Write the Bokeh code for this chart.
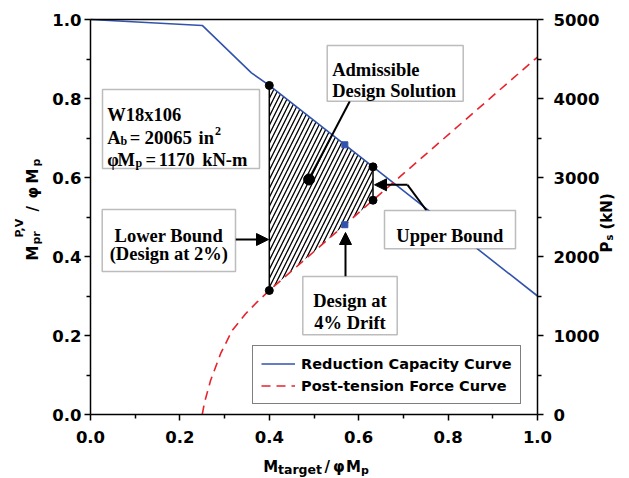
import numpy as np
from math import pi
from bokeh.plotting import figure
from bokeh.models import (Range1d, LinearAxis, FixedTicker, Label, BoxAnnotation,
                          Arrow, NormalHead, Legend, LegendItem)
from bokeh.embed import file_html
from bokeh.resources import INLINE

# ---------------- data ----------------
# Reduction capacity curve (M_pr^{P,V} / phi M_p vs M_target / phi M_p)
cap_x = [0.0, 0.25, 0.36, 0.40, 1.0]
cap_y = [1.0, 0.985, 0.865, 0.833, 0.30]
# Post-tension force curve (P_s / 5000 kN on the left scale)
pt_x = [0.25, 0.255, 0.2686, 0.291, 0.317, 0.347, 0.373, 0.40, 1.0]
pt_y = [0.0, 0.03, 0.086, 0.154, 0.213, 0.255, 0.285, 0.314, 0.905]
# lower bound (design at 2%) and upper bound
bound_x = [0.40, 0.632]
# design at 4% drift
drift4_x = [0.569]
# admissible design solution marker
adm_x = [0.489]
adm_y = [0.595]

x_ticks = [0.0, 0.2, 0.4, 0.6, 0.8, 1.0]
x_tick_labels = ["0.0", "0.2", "0.4", "0.6", "0.8", "1.0"]
x_minor = [0.1, 0.3, 0.5, 0.7, 0.9]
y_ticks = [0.0, 0.2, 0.4, 0.6, 0.8, 1.0]
y_tick_labels = ["0.0", "0.2", "0.4", "0.6", "0.8", "1.0"]
y_minor = [0.1, 0.3, 0.5, 0.7, 0.9]
ps_ticks = [0, 1000, 2000, 3000, 4000, 5000]
ps_tick_labels = ["0", "1000", "2000", "3000", "4000", "5000"]
ps_minor = [500, 1500, 2500, 3500, 4500]
ps_max = 5000

BLUE = "#3153ad"
RED = "#e8232c"
SANS = "DejaVu Sans"
SERIF = "Liberation Serif"

# ---------------- layout helpers ----------------
W, H = 629, 478
X0, X1, Y0, Y1 = 90, 537, 414, 19   # pixel position of data 0 and 1


def dx(px):
    return (px - X0) / (X1 - X0)


def dy(py):
    return (Y0 - py) / (Y0 - Y1)


p = figure(width=W, height=H,
           x_range=Range1d(dx(0), dx(W)), y_range=Range1d(dy(H), dy(0)),
           output_backend="svg", toolbar_location=None,
           x_axis_location=None, y_axis_location=None,
           min_border=0, min_border_left=0, min_border_right=0,
           min_border_top=0, min_border_bottom=0)
p.extra_y_ranges = {"ps": Range1d(dy(H) * ps_max, dy(0) * ps_max)}
p.xgrid.visible = False
p.ygrid.visible = False
p.outline_line_color = None
p.background_fill_color = "white"
p.border_fill_color = "white"


def style_axis(ax, ticks, minor, labels, standoff):
    ax.ticker = FixedTicker(ticks=ticks, minor_ticks=minor)
    ax.major_label_overrides = {t: l for t, l in zip(ticks, labels)}
    ax.axis_line_width = 1.5
    ax.axis_line_color = "black"
    ax.major_tick_line_width = 1.5
    ax.minor_tick_line_width = 1.5
    ax.major_tick_out = 6
    ax.major_tick_in = 0
    ax.minor_tick_out = 4
    ax.minor_tick_in = 0
    ax.major_label_text_font = SANS
    ax.major_label_text_font_style = "bold"
    ax.major_label_text_font_size = "16.5px"
    ax.major_label_text_color = "black"
    ax.major_label_standoff = standoff


xax = LinearAxis(fixed_location=0, bounds=(0, 1))
style_axis(xax, x_ticks, x_minor, x_tick_labels, 10)
p.add_layout(xax, "below")
yax = LinearAxis(fixed_location=0, bounds=(0, 1))
style_axis(yax, y_ticks, y_minor, y_tick_labels, 3)
p.add_layout(yax, "left")
rax = LinearAxis(y_range_name="ps", fixed_location=1, bounds=(0, ps_max))
style_axis(rax, ps_ticks, ps_minor, ps_tick_labels, 10)
p.add_layout(rax, "right")
tax = LinearAxis(fixed_location=1, bounds=(0, 1), ticker=FixedTicker(ticks=[]),
                 major_tick_out=0, major_tick_in=0, minor_tick_out=0, minor_tick_in=0,
                 axis_line_width=1.5, axis_line_color="black")
p.add_layout(tax, "above")

# ---------------- hatched admissible region ----------------
xs = np.linspace(bound_x[0], bound_x[1], 60)
top = np.interp(xs, cap_x, cap_y)
bot = np.interp(xs, pt_x, pt_y)
p.patch(np.concatenate([xs, xs[::-1]]), np.concatenate([top, bot[::-1]]),
        fill_color="white", line_color=None, hatch_pattern="/",
        hatch_color="black", hatch_scale=9, hatch_weight=1.3)
b_top = np.interp(bound_x, cap_x, cap_y)
b_bot = np.interp(bound_x, pt_x, pt_y)
p.segment(x0=bound_x, y0=b_bot, x1=bound_x, y1=b_top, line_color="black", line_width=1.5)

# ---------------- curves ----------------
r_cap = p.line(cap_x, cap_y, line_color=BLUE, line_width=1.6)
r_pt = p.line(pt_x, pt_y, line_color=RED, line_width=1.6, line_dash="9 6")

# connectors
p.line([dx(349.3), dx(308.3)], [dy(100.7), dy(179)], line_color="black", line_width=2)
p.line([dx(426), dx(407)], [dy(210), dy(184.3)], line_color="black", line_width=2)

# markers
p.scatter(list(bound_x) * 2, list(b_top) + list(b_bot), marker="circle", size=8,
          fill_color="black", line_color="black")
p.scatter(adm_x, adm_y, marker="circle", size=11, fill_color="black", line_color="black")
d4 = drift4_x * 2
d4y = list(np.interp(drift4_x, cap_x, cap_y)) + list(np.interp(drift4_x, pt_x, pt_y))
p.scatter(d4, d4y, marker="square", size=6, fill_color=BLUE, line_color=BLUE)

# ---------------- arrows ----------------
head = dict(size=12, fill_color="black", line_color="black")
p.add_layout(Arrow(end=NormalHead(**head), x_start=dx(235), y_start=dy(239),
                   x_end=dx(268), y_end=dy(239), line_width=2))
p.add_layout(Arrow(end=NormalHead(**head), x_start=dx(407), y_start=dy(184.3),
                   x_end=dx(374), y_end=dy(184.3), line_width=2))
p.add_layout(Arrow(end=NormalHead(**head), x_start=dx(345), y_start=dy(276),
                   x_end=dx(345), y_end=dy(232), line_width=2))

# ---------------- annotation boxes ----------------
boxes = [(102, 259, 89, 168), (326.7, 462.7, 45, 100.7), (101.7, 235, 209, 271),
         (384, 515, 210, 248.3), (302.3, 396.7, 276, 334.3)]
for l, r, t, b in boxes:
    p.add_layout(BoxAnnotation(left=dx(l), right=dx(r), top=dy(t), bottom=dy(b),
                               fill_color="white", fill_alpha=1, line_color="#222222",
                               line_width=1.5, level="annotation"))


def lab(text, px, py, size, font=SERIF, angle=0.0, align="left"):
    p.add_layout(Label(x=dx(px), y=dy(py), text=text, text_font=font,
                       text_font_style="bold", text_font_size=f"{size}px",
                       text_align=align, text_baseline="alphabetic",
                       angle=angle, text_color="black"))


# box 1
lab("W18x106", 106.7, 114, 18.5)
lab("A", 106.7, 137, 18.5)
lab("b", 120, 140.5, 12)
lab("=", 129.3, 137, 18.5)
lab("20065", 144, 137, 19)
lab("in", 198, 137, 18.5)
lab("2", 214.5, 130, 12)
lab("φ", 106.7, 159, 18.5)
lab("M", 117, 159, 18.5)
lab("p", 135, 162.5, 12)
lab("=", 145, 159, 18.5)
lab("1170", 158.3, 159, 18.5)
lab("kN-m", 201.7, 159, 18.5)
# box 2
lab("Admissible", 331.7, 69, 18.5)
lab("Design Solution", 331.7, 90.7, 18.5)
# box 3
lab("Lower Bound", 168.3, 235, 18.5, align="center")
lab("(Design at 2%)", 168.3, 253, 18.5, align="center")
# box 4
lab("Upper Bound", 449.5, 235, 18.5, align="center")
# box 5
lab("Design at", 349.5, 300, 18.5, align="center")
lab("4% Drift", 349.5, 322, 18.5, align="center")

# ---------------- axis titles ----------------
A = pi / 2
# left (rotated, reads upward)
lab("M", 32, 260, 15, SANS, A)
lab("pr", 35.5, 244, 11, SANS, A)
lab("P,V", 19, 237, 11, SANS, A)
lab("/", 32, 211, 15, SANS, A)
lab("φ", 32, 198, 15, SANS, A)
lab("M", 32, 183, 15, SANS, A)
lab("p", 35.5, 166, 11, SANS, A)
# right (rotated)
lab("P", 606, 252, 15, SANS, A)
lab("s", 609, 240, 10, SANS, A)
lab("(kN)", 606, 229, 15, SANS, A)
# bottom
lab("M", 262.7, 466, 15, SANS)
lab("target", 277.5, 469, 12.5, SANS)
lab("/", 324, 466, 15, SANS)
lab("φ", 332.5, 466, 15, SANS)
lab("M", 345.5, 466, 15, SANS)
lab("p", 360.5, 469.5, 11, SANS)

# ---------------- legend ----------------
legend = Legend(items=[LegendItem(label="Reduction Capacity Curve", renderers=[r_cap]),
                       LegendItem(label="Post-tension Force Curve", renderers=[r_pt])],
                location=(252, H - 404))
legend.label_text_font = SANS
legend.label_text_font_style = "bold"
legend.label_text_font_size = "14.5px"
legend.label_text_color = "black"
legend.glyph_width = 34
legend.glyph_height = 19
legend.label_height = 19
legend.label_standoff = 6
legend.padding = 8
legend.spacing = 3
legend.margin = 0
legend.border_line_color = "black"
legend.border_line_width = 1.5
legend.background_fill_color = "white"
legend.background_fill_alpha = 1
p.add_layout(legend)

open("out.html", "w").write(file_html(p, INLINE))
